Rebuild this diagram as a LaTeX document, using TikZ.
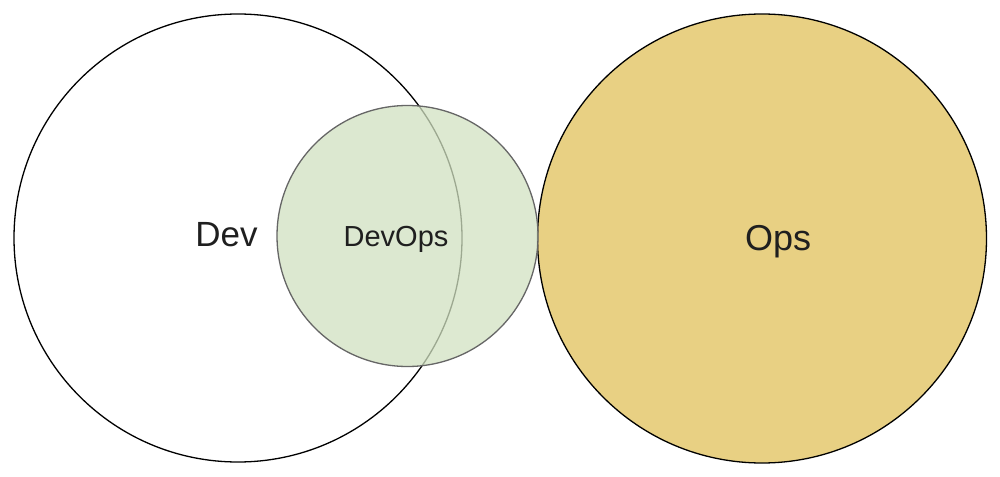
\documentclass[tikz,border=0pt]{standalone}
\usepackage{fontspec}
\setmainfont{Liberation Sans}
\definecolor{opsfill}{HTML}{E8D083}
\definecolor{devopsfill}{RGB}{209,225,193}
\definecolor{devopsline}{HTML}{666666}
\begin{document}
\begin{tikzpicture}[x=1pt,y=-1pt,
  ring/.style={circle,draw=black,line width=1.3pt,inner sep=0pt},
  label/.style={text=black!88,inner sep=0pt,anchor=base}]
\useasboundingbox (0,0) rectangle (1000,476);
% Dev: plain white circle
\node[ring,fill=white,minimum size=448pt] (dev) at (238,238) {};
% Ops: golden circle on the right
\node[ring,fill=opsfill,minimum size=449pt] (ops) at (762,238.5) {};
% DevOps: translucent green circle overlapping Dev
\node[circle,draw=devopsline,line width=1.3pt,fill=devopsfill,fill opacity=0.75,
      minimum size=261pt,inner sep=0pt] (devops) at (407.5,236) {};
% Texts
\node[label,font=\fontsize{35}{40}\selectfont] (devtxt) at (226.5,246) {Dev};
\node[label,font=\fontsize{29}{34}\selectfont] (devopstxt) at (396,246) {DevOps};
\node[label,font=\fontsize{36}{42}\selectfont] (opstxt) at (778,250) {Ops};
\end{tikzpicture}
\end{document}
